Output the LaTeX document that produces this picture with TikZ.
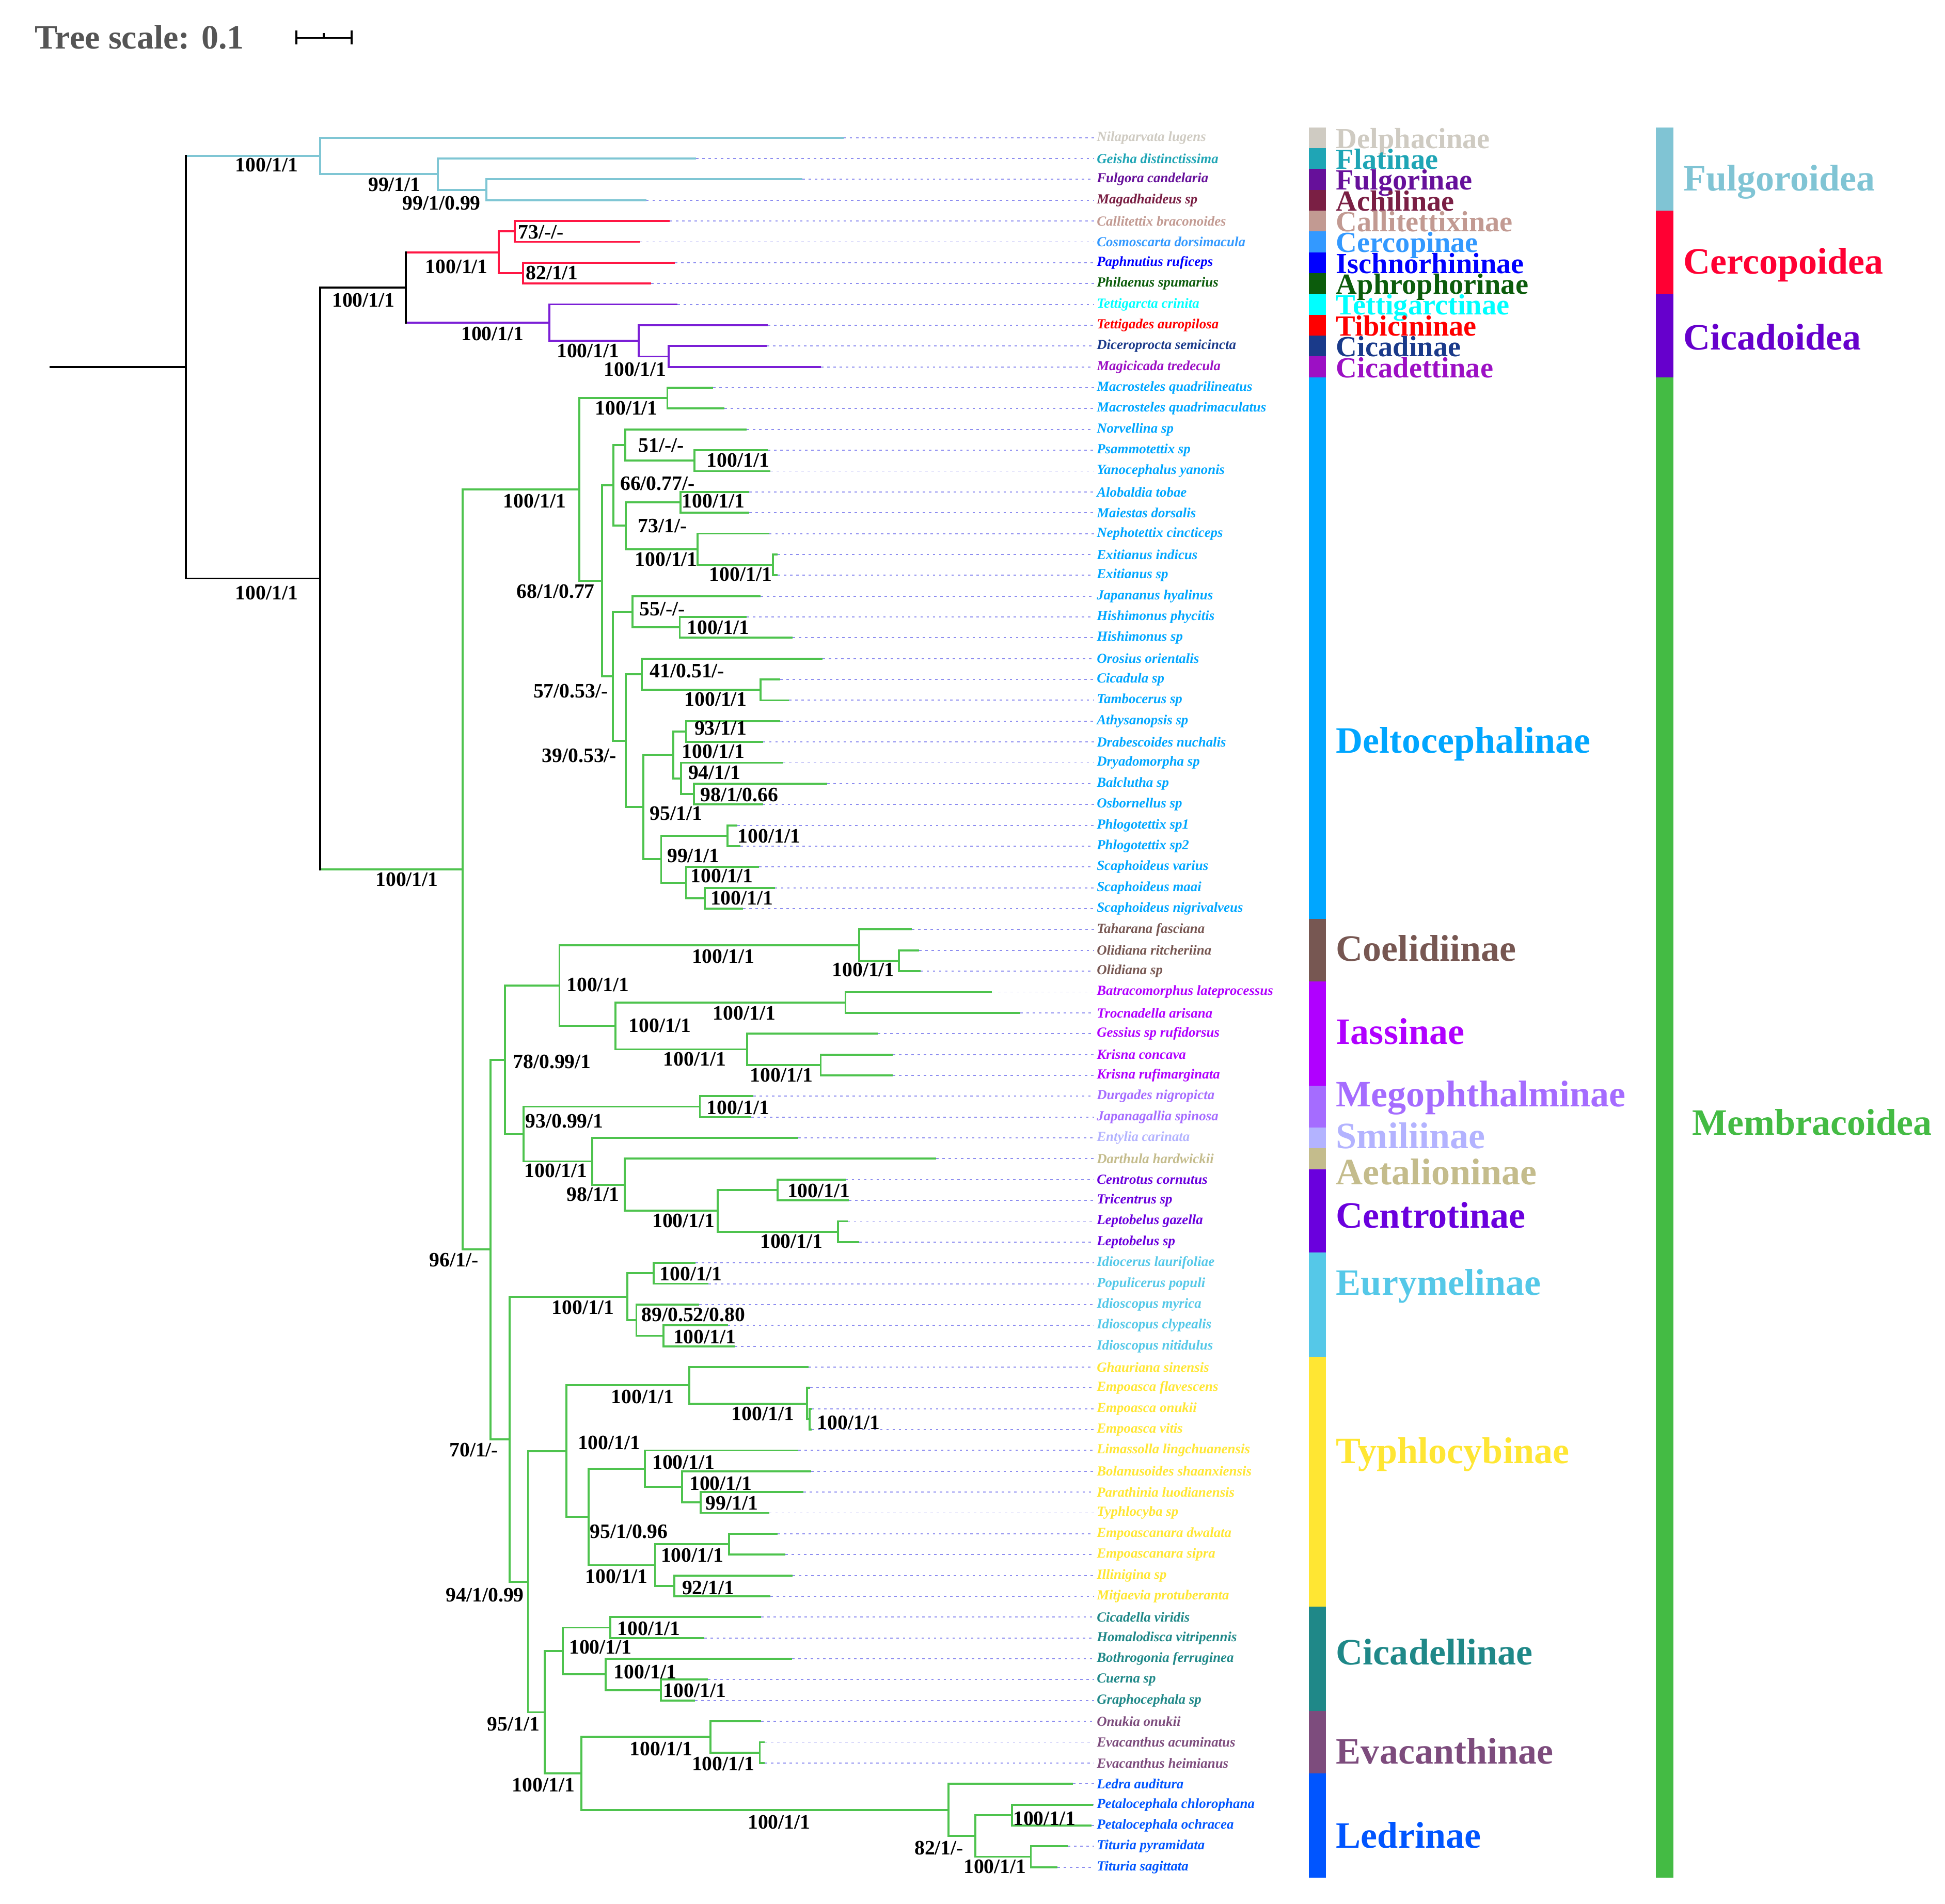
\documentclass[tikz,border=0pt]{standalone}
\usepackage{fontspec}
\setmainfont{Liberation Serif}

% subfamily colours
\definecolor{cDelph}{HTML}{CFCBC2}
\definecolor{cFlat}{HTML}{1FA5B5}
\definecolor{cFulg}{HTML}{66109A}
\definecolor{cAchil}{HTML}{7A1F44}
\definecolor{cCallit}{HTML}{C29A92}
\definecolor{cCercop}{HTML}{3399FF}
\definecolor{cIschno}{HTML}{0000FF}
\definecolor{cAphro}{HTML}{0C5C0C}
\definecolor{cTettig}{HTML}{00FFFF}
\definecolor{cTibic}{HTML}{FF0000}
\definecolor{cCicadin}{HTML}{1A3A8A}
\definecolor{cCicadet}{HTML}{9C10C4}
\definecolor{cDelto}{HTML}{00A6FF}
\definecolor{cCoel}{HTML}{775752}
\definecolor{cIass}{HTML}{B000FF}
\definecolor{cMego}{HTML}{A56CFF}
\definecolor{cSmil}{HTML}{B3B3FF}
\definecolor{cAetal}{HTML}{C4BC8C}
\definecolor{cCentro}{HTML}{6A00DD}
\definecolor{cEury}{HTML}{55C8E8}
\definecolor{cTyph}{HTML}{FFE633}
\definecolor{cCicadel}{HTML}{1F8888}
\definecolor{cEvac}{HTML}{7D4C7D}
\definecolor{cLedr}{HTML}{0055FF}
% superfamily colours
\definecolor{cFulgo}{HTML}{80C4D4}
\definecolor{cCercopo}{HTML}{FF0033}
\definecolor{cCicado}{HTML}{6600CC}
\definecolor{cMembra}{HTML}{44BB44}
% branches
\definecolor{bFulgo}{HTML}{7FC6D4}
\definecolor{bCercopo}{HTML}{FF1744}
\definecolor{bCicado}{HTML}{7B1FD6}
\definecolor{bMembra}{HTML}{4EC34E}
\definecolor{cLead}{HTML}{8C8CF0}
\definecolor{cTitle}{HTML}{555555}

% row of a taxon, in px of the figure
\newcommand{\rowy}[1]{94.2+16.8*#1}

\tikzset{
  backbr/.style={draw=black,line width=1.6pt},
  fulgbr/.style={draw=bFulgo,line width=1.6pt},
  cercbr/.style={draw=bCercopo,line width=1.6pt},
  cicabr/.style={draw=bCicado,line width=1.6pt},
  membbr/.style={draw=bMembra,line width=1.6pt},
  lead/.style={draw=cLead,line width=0.8pt,dash pattern=on 2pt off 3pt},
  taxon/.style={anchor=west,inner sep=0pt,font=\fontsize{11.2}{12}\selectfont\bfseries\itshape},
  bs/.style={inner sep=0pt,font=\fontsize{16.5}{17}\selectfont\bfseries},
  subfam/.style={anchor=base west,inner sep=0pt,font=\fontsize{23.5}{26}\selectfont\bfseries},
  subfamL/.style={anchor=base west,inner sep=0pt,font=\fontsize{30}{32}\selectfont\bfseries},
}

\begin{document}
\begin{tikzpicture}[x=1pt,y=1pt,yscale=-1,xscale=1]
\useasboundingbox (0,0) rectangle (1568,1535);

% Title and scale bar
\node[anchor=base west,inner sep=0pt,font=\fontsize{27.5}{30}\selectfont\bfseries,text=cTitle] (title) at (28,39.5) {Tree scale: 0.1};
\coordinate (sbL) at (239,30.6);
\coordinate (sbR) at (283.5,30.6);
\coordinate (sbM) at (261,30.6);
\coordinate (sbLt) at (239,24.6);
\coordinate (sbLb) at (239,35.9);
\coordinate (sbRt) at (283.5,24.6);
\coordinate (sbRb) at (283.5,35.9);
\coordinate (sbMt) at (261,26.6);
\draw[line width=1.6pt] (sbL) -- (sbR) (sbLt) -- (sbLb) (sbRt) -- (sbRb) (sbMt) -- (sbM);

% Internal nodes
\coordinate (rootL) at (40,{\rowy{12.014}});
\coordinate (root) at (150,{\rowy{12.014}});
\coordinate (fA) at (258,{\rowy{1.875}});
\coordinate (fB) at (353,{\rowy{2.75}});
\coordinate (fC) at (392,{\rowy{3.5}});
\coordinate (bk) at (258,{\rowy{22.153}});
\coordinate (ci) at (327,{\rowy{8.1875}});
\coordinate (cer) at (402,{\rowy{6.5}});
\coordinate (cerA) at (415,{\rowy{5.5}});
\coordinate (cerB) at (421.5,{\rowy{7.5}});
\coordinate (cic) at (443,{\rowy{9.875}});
\coordinate (cicA) at (515,{\rowy{10.75}});
\coordinate (cicB) at (539,{\rowy{11.5}});
\coordinate (mem) at (373,{\rowy{36.119}});
\coordinate (del) at (467,{\rowy{17.883}});
\coordinate (mac) at (538,{\rowy{13.5}});
\coordinate (d68) at (485.5,{\rowy{22.266}});
\coordinate (d66) at (494.5,{\rowy{17.6875}});
\coordinate (d51) at (504,{\rowy{15.75}});
\coordinate (psa) at (560,{\rowy{16.5}});
\coordinate (d73) at (504.5,{\rowy{19.625}});
\coordinate (alo) at (548.6,{\rowy{18.5}});
\coordinate (nep) at (562.5,{\rowy{20.75}});
\coordinate (exi) at (623,{\rowy{21.5}});
\coordinate (d57) at (494,{\rowy{26.844}});
\coordinate (d55) at (510,{\rowy{23.75}});
\coordinate (his) at (548,{\rowy{24.5}});
\coordinate (d39) at (504.5,{\rowy{29.9375}});
\coordinate (d41) at (517.4,{\rowy{26.75}});
\coordinate (cdl) at (613,{\rowy{27.5}});
\coordinate (d95) at (518.7,{\rowy{33.125}});
\coordinate (dra) at (542.8,{\rowy{30.625}});
\coordinate (d93) at (553,{\rowy{29.5}});
\coordinate (d94) at (549,{\rowy{31.75}});
\coordinate (d98) at (559.4,{\rowy{32.5}});
\coordinate (d99) at (533,{\rowy{35.625}});
\coordinate (phl) at (586.5,{\rowy{34.5}});
\coordinate (sca) at (553,{\rowy{36.75}});
\coordinate (scaB) at (568,{\rowy{37.5}});
\coordinate (m96) at (395.5,{\rowy{54.356}});
\coordinate (m78) at (407,{\rowy{45.25}});
\coordinate (coi) at (451,{\rowy{41.6875}});
\coordinate (coe) at (692.6,{\rowy{39.75}});
\coordinate (oli) at (724.6,{\rowy{40.5}});
\coordinate (ias) at (496,{\rowy{43.625}});
\coordinate (bat) at (681.6,{\rowy{42.5}});
\coordinate (ges) at (602.2,{\rowy{44.75}});
\coordinate (kri) at (661.6,{\rowy{45.5}});
\coordinate (m93) at (422,{\rowy{48.8125}});
\coordinate (meg) at (564.2,{\rowy{47.5}});
\coordinate (smi) at (477.3,{\rowy{50.125}});
\coordinate (m98) at (503.8,{\rowy{51.25}});
\coordinate (cen) at (578.7,{\rowy{52.5}});
\coordinate (cenA) at (627,{\rowy{51.5}});
\coordinate (lep) at (675.4,{\rowy{53.5}});
\coordinate (m70) at (410.7,{\rowy{63.461}});
\coordinate (eur) at (505.6,{\rowy{56.625}});
\coordinate (idi) at (527,{\rowy{55.5}});
\coordinate (m89) at (513,{\rowy{57.75}});
\coordinate (ids) at (534.9,{\rowy{58.5}});
\coordinate (m94) at (425.6,{\rowy{70.297}});
\coordinate (typ) at (456.6,{\rowy{64.031}});
\coordinate (gha) at (555.7,{\rowy{60.875}});
\coordinate (emp) at (650.6,{\rowy{61.75}});
\coordinate (empB) at (652.5,{\rowy{62.5}});
\coordinate (ty95) at (474.5,{\rowy{67.1875}});
\coordinate (lim) at (520,{\rowy{64.875}});
\coordinate (bol) at (549.7,{\rowy{65.75}});
\coordinate (par) at (564.9,{\rowy{66.5}});
\coordinate (ty100) at (528,{\rowy{69.5}});
\coordinate (emc) at (587.7,{\rowy{68.5}});
\coordinate (ty92) at (543.5,{\rowy{70.5}});
\coordinate (m95) at (439,{\rowy{76.5625}});
\coordinate (cel) at (453.7,{\rowy{73.625}});
\coordinate (celA) at (492,{\rowy{72.5}});
\coordinate (celB) at (488.3,{\rowy{74.75}});
\coordinate (celC) at (532.8,{\rowy{75.5}});
\coordinate (m100) at (468.7,{\rowy{79.5}});
\coordinate (eva) at (572.8,{\rowy{77.75}});
\coordinate (evaB) at (612.5,{\rowy{78.5}});
\coordinate (led) at (764.8,{\rowy{81.25}});
\coordinate (led82) at (786.4,{\rowy{82.5}});
\coordinate (pet) at (816,{\rowy{81.5}});
\coordinate (tit) at (831,{\rowy{83.5}});

% Leaves: branch tip and taxon name
\coordinate (l1) at (680,{\rowy{1}}); \node[taxon,text=cDelph] (t1) at (884,{\rowy{1}}) {Nilaparvata lugens};
\coordinate (l2) at (561,{\rowy{2}}); \node[taxon,text=cFlat] (t2) at (884,{\rowy{2}}) {Geisha distinctissima};
\coordinate (l3) at (647,{\rowy{3}}); \node[taxon,text=cFulg] (t3) at (884,{\rowy{3}}) {Fulgora candelaria};
\coordinate (l4) at (521,{\rowy{4}}); \node[taxon,text=cAchil] (t4) at (884,{\rowy{4}}) {Magadhaideus sp};
\coordinate (l5) at (540,{\rowy{5}}); \node[taxon,text=cCallit] (t5) at (884,{\rowy{5}}) {Callitettix braconoides};
\coordinate (l6) at (516,{\rowy{6}}); \node[taxon,text=cCercop] (t6) at (884,{\rowy{6}}) {Cosmoscarta dorsimacula};
\coordinate (l7) at (544,{\rowy{7}}); \node[taxon,text=cIschno] (t7) at (884,{\rowy{7}}) {Paphnutius ruficeps};
\coordinate (l8) at (525,{\rowy{8}}); \node[taxon,text=cAphro] (t8) at (884,{\rowy{8}}) {Philaenus spumarius};
\coordinate (l9) at (546,{\rowy{9}}); \node[taxon,text=cTettig] (t9) at (884,{\rowy{9}}) {Tettigarcta crinita};
\coordinate (l10) at (619,{\rowy{10}}); \node[taxon,text=cTibic] (t10) at (884,{\rowy{10}}) {Tettigades auropilosa};
\coordinate (l11) at (618,{\rowy{11}}); \node[taxon,text=cCicadin] (t11) at (884,{\rowy{11}}) {Diceroprocta semicincta};
\coordinate (l12) at (662,{\rowy{12}}); \node[taxon,text=cCicadet] (t12) at (884,{\rowy{12}}) {Magicicada tredecula};
\coordinate (l13) at (575,{\rowy{13}}); \node[taxon,text=cDelto] (t13) at (884,{\rowy{13}}) {Macrosteles quadrilineatus};
\coordinate (l14) at (584,{\rowy{14}}); \node[taxon,text=cDelto] (t14) at (884,{\rowy{14}}) {Macrosteles quadrimaculatus};
\coordinate (l15) at (602,{\rowy{15}}); \node[taxon,text=cDelto] (t15) at (884,{\rowy{15}}) {Norvellina sp};
\coordinate (l16) at (619,{\rowy{16}}); \node[taxon,text=cDelto] (t16) at (884,{\rowy{16}}) {Psammotettix sp};
\coordinate (l17) at (621,{\rowy{17}}); \node[taxon,text=cDelto] (t17) at (884,{\rowy{17}}) {Yanocephalus yanonis};
\coordinate (l18) at (604,{\rowy{18}}); \node[taxon,text=cDelto] (t18) at (884,{\rowy{18}}) {Alobaldia tobae};
\coordinate (l19) at (604,{\rowy{19}}); \node[taxon,text=cDelto] (t19) at (884,{\rowy{19}}) {Maiestas dorsalis};
\coordinate (l20) at (620,{\rowy{20}}); \node[taxon,text=cDelto] (t20) at (884,{\rowy{20}}) {Nephotettix cincticeps};
\coordinate (l21) at (627,{\rowy{21}}); \node[taxon,text=cDelto] (t21) at (884,{\rowy{21}}) {Exitianus indicus};
\coordinate (l22) at (627,{\rowy{22}}); \node[taxon,text=cDelto] (t22) at (884,{\rowy{22}}) {Exitianus sp};
\coordinate (l23) at (613,{\rowy{23}}); \node[taxon,text=cDelto] (t23) at (884,{\rowy{23}}) {Japananus hyalinus};
\coordinate (l24) at (602,{\rowy{24}}); \node[taxon,text=cDelto] (t24) at (884,{\rowy{24}}) {Hishimonus phycitis};
\coordinate (l25) at (639,{\rowy{25}}); \node[taxon,text=cDelto] (t25) at (884,{\rowy{25}}) {Hishimonus sp};
\coordinate (l26) at (663,{\rowy{26}}); \node[taxon,text=cDelto] (t26) at (884,{\rowy{26}}) {Orosius orientalis};
\coordinate (l27) at (629,{\rowy{27}}); \node[taxon,text=cDelto] (t27) at (884,{\rowy{27}}) {Cicadula sp};
\coordinate (l28) at (636,{\rowy{28}}); \node[taxon,text=cDelto] (t28) at (884,{\rowy{28}}) {Tambocerus sp};
\coordinate (l29) at (629,{\rowy{29}}); \node[taxon,text=cDelto] (t29) at (884,{\rowy{29}}) {Athysanopsis sp};
\coordinate (l30) at (615,{\rowy{30}}); \node[taxon,text=cDelto] (t30) at (884,{\rowy{30}}) {Drabescoides nuchalis};
\coordinate (l31) at (631,{\rowy{31}}); \node[taxon,text=cDelto] (t31) at (884,{\rowy{31}}) {Dryadomorpha sp};
\coordinate (l32) at (667,{\rowy{32}}); \node[taxon,text=cDelto] (t32) at (884,{\rowy{32}}) {Balclutha sp};
\coordinate (l33) at (615,{\rowy{33}}); \node[taxon,text=cDelto] (t33) at (884,{\rowy{33}}) {Osbornellus sp};
\coordinate (l34) at (594.5,{\rowy{34}}); \node[taxon,text=cDelto] (t34) at (884,{\rowy{34}}) {Phlogotettix sp1};
\coordinate (l35) at (597,{\rowy{35}}); \node[taxon,text=cDelto] (t35) at (884,{\rowy{35}}) {Phlogotettix sp2};
\coordinate (l36) at (612,{\rowy{36}}); \node[taxon,text=cDelto] (t36) at (884,{\rowy{36}}) {Scaphoideus varius};
\coordinate (l37) at (624.6,{\rowy{37}}); \node[taxon,text=cDelto] (t37) at (884,{\rowy{37}}) {Scaphoideus maai};
\coordinate (l38) at (599,{\rowy{38}}); \node[taxon,text=cDelto] (t38) at (884,{\rowy{38}}) {Scaphoideus nigrivalveus};
\coordinate (l39) at (735,{\rowy{39}}); \node[taxon,text=cCoel] (t39) at (884,{\rowy{39}}) {Taharana fasciana};
\coordinate (l40) at (741,{\rowy{40}}); \node[taxon,text=cCoel] (t40) at (884,{\rowy{40}}) {Olidiana ritcheriina};
\coordinate (l41) at (742,{\rowy{41}}); \node[taxon,text=cCoel] (t41) at (884,{\rowy{41}}) {Olidiana sp};
\coordinate (l42) at (799.6,{\rowy{42}}); \node[taxon,text=cIass] (t42) at (884,{\rowy{42}}) {Batracomorphus lateprocessus};
\coordinate (l43) at (822.4,{\rowy{43}}); \node[taxon,text=cIass] (t43) at (884,{\rowy{43}}) {Trocnadella arisana};
\coordinate (l44) at (707.5,{\rowy{44}}); \node[taxon,text=cIass] (t44) at (884,{\rowy{44}}) {Gessius sp rufidorsus};
\coordinate (l45) at (719.6,{\rowy{45}}); \node[taxon,text=cIass] (t45) at (884,{\rowy{45}}) {Krisna concava};
\coordinate (l46) at (719.6,{\rowy{46}}); \node[taxon,text=cIass] (t46) at (884,{\rowy{46}}) {Krisna rufimarginata};
\coordinate (l47) at (607.3,{\rowy{47}}); \node[taxon,text=cMego] (t47) at (884,{\rowy{47}}) {Durgades nigropicta};
\coordinate (l48) at (605.6,{\rowy{48}}); \node[taxon,text=cMego] (t48) at (884,{\rowy{48}}) {Japanagallia spinosa};
\coordinate (l49) at (643.6,{\rowy{49}}); \node[taxon,text=cSmil] (t49) at (884,{\rowy{49}}) {Entylia carinata};
\coordinate (l50) at (754.7,{\rowy{50}}); \node[taxon,text=cAetal] (t50) at (884,{\rowy{50}}) {Darthula hardwickii};
\coordinate (l51) at (681.6,{\rowy{51}}); \node[taxon,text=cCentro] (t51) at (884,{\rowy{51}}) {Centrotus cornutus};
\coordinate (l52) at (684.3,{\rowy{52}}); \node[taxon,text=cCentro] (t52) at (884,{\rowy{52}}) {Tricentrus sp};
\coordinate (l53) at (683.3,{\rowy{53}}); \node[taxon,text=cCentro] (t53) at (884,{\rowy{53}}) {Leptobelus gazella};
\coordinate (l54) at (692.6,{\rowy{54}}); \node[taxon,text=cCentro] (t54) at (884,{\rowy{54}}) {Leptobelus sp};
\coordinate (l55) at (560.7,{\rowy{55}}); \node[taxon,text=cEury] (t55) at (884,{\rowy{55}}) {Idiocerus laurifoliae};
\coordinate (l56) at (571,{\rowy{56}}); \node[taxon,text=cEury] (t56) at (884,{\rowy{56}}) {Populicerus populi};
\coordinate (l57) at (563.6,{\rowy{57}}); \node[taxon,text=cEury] (t57) at (884,{\rowy{57}}) {Idioscopus myrica};
\coordinate (l58) at (586.7,{\rowy{58}}); \node[taxon,text=cEury] (t58) at (884,{\rowy{58}}) {Idioscopus clypealis};
\coordinate (l59) at (592.5,{\rowy{59}}); \node[taxon,text=cEury] (t59) at (884,{\rowy{59}}) {Idioscopus nitidulus};
\coordinate (l60) at (652,{\rowy{60}}); \node[taxon,text=cTyph] (t60) at (884,{\rowy{60}}) {Ghauriana sinensis};
\coordinate (l61) at (653,{\rowy{61}}); \node[taxon,text=cTyph] (t61) at (884,{\rowy{61}}) {Empoasca flavescens};
\coordinate (l62) at (654.5,{\rowy{62}}); \node[taxon,text=cTyph] (t62) at (884,{\rowy{62}}) {Empoasca onukii};
\coordinate (l63) at (654.5,{\rowy{63}}); \node[taxon,text=cTyph] (t63) at (884,{\rowy{63}}) {Empoasca vitis};
\coordinate (l64) at (643.6,{\rowy{64}}); \node[taxon,text=cTyph] (t64) at (884,{\rowy{64}}) {Limassolla lingchuanensis};
\coordinate (l65) at (654,{\rowy{65}}); \node[taxon,text=cTyph] (t65) at (884,{\rowy{65}}) {Bolanusoides shaanxiensis};
\coordinate (l66) at (647.7,{\rowy{66}}); \node[taxon,text=cTyph] (t66) at (884,{\rowy{66}}) {Parathinia luodianensis};
\coordinate (l67) at (620,{\rowy{67}}); \node[taxon,text=cTyph] (t67) at (884,{\rowy{67}}) {Typhlocyba sp};
\coordinate (l68) at (627,{\rowy{68}}); \node[taxon,text=cTyph] (t68) at (884,{\rowy{68}}) {Empoascanara dwalata};
\coordinate (l69) at (633,{\rowy{69}}); \node[taxon,text=cTyph] (t69) at (884,{\rowy{69}}) {Empoascanara sipra};
\coordinate (l70) at (639,{\rowy{70}}); \node[taxon,text=cTyph] (t70) at (884,{\rowy{70}}) {Illinigina sp};
\coordinate (l71) at (621,{\rowy{71}}); \node[taxon,text=cTyph] (t71) at (884,{\rowy{71}}) {Mitjaevia protuberanta};
\coordinate (l72) at (613.5,{\rowy{72}}); \node[taxon,text=cCicadel] (t72) at (884,{\rowy{72}}) {Cicadella viridis};
\coordinate (l73) at (567.8,{\rowy{73}}); \node[taxon,text=cCicadel] (t73) at (884,{\rowy{73}}) {Homalodisca vitripennis};
\coordinate (l74) at (638.5,{\rowy{74}}); \node[taxon,text=cCicadel] (t74) at (884,{\rowy{74}}) {Bothrogonia ferruginea};
\coordinate (l75) at (570.7,{\rowy{75}}); \node[taxon,text=cCicadel] (t75) at (884,{\rowy{75}}) {Cuerna sp};
\coordinate (l76) at (560.4,{\rowy{76}}); \node[taxon,text=cCicadel] (t76) at (884,{\rowy{76}}) {Graphocephala sp};
\coordinate (l77) at (613.5,{\rowy{77}}); \node[taxon,text=cEvac] (t77) at (884,{\rowy{77}}) {Onukia onukii};
\coordinate (l78) at (616.5,{\rowy{78}}); \node[taxon,text=cEvac] (t78) at (884,{\rowy{78}}) {Evacanthus acuminatus};
\coordinate (l79) at (616.5,{\rowy{79}}); \node[taxon,text=cEvac] (t79) at (884,{\rowy{79}}) {Evacanthus heimianus};
\coordinate (l80) at (865,{\rowy{80}}); \node[taxon,text=cLedr] (t80) at (884,{\rowy{80}}) {Ledra auditura};
\coordinate (l81) at (881,{\rowy{81}}); \node[taxon,text=cLedr] (t81) at (884,{\rowy{81}}) {Petalocephala chlorophana};
\coordinate (l82) at (880,{\rowy{82}}); \node[taxon,text=cLedr] (t82) at (884,{\rowy{82}}) {Petalocephala ochracea};
\coordinate (l83) at (860.8,{\rowy{83}}); \node[taxon,text=cLedr] (t83) at (884,{\rowy{83}}) {Tituria pyramidata};
\coordinate (l84) at (852.5,{\rowy{84}}); \node[taxon,text=cLedr] (t84) at (884,{\rowy{84}}) {Tituria sagittata};

% dotted leaders to the names
\foreach \i in {1,...,84} \draw[lead] (l\i) -- ([xshift=-2pt]t\i.west);

% Fulgoroidea
\draw[fulgbr] (root) |- (fA) (fA) |- (l1) (fA) |- (fB) (fB) |- (l2) (fB) |- (fC) (fC) |- (l3) (fC) |- (l4);
% Cercopoidea
\draw[cercbr] (ci) |- (cer) (cer) |- (cerA) (cer) |- (cerB) (cerA) |- (l5) (cerA) |- (l6) (cerB) |- (l7) (cerB) |- (l8);
% Cicadoidea
\draw[cicabr] (ci) |- (cic) (cic) |- (l9) (cic) |- (cicA) (cicA) |- (l10) (cicA) |- (cicB) (cicB) |- (l11) (cicB) |- (l12);
% Membracoidea: Deltocephalinae
\draw[membbr] (bk) |- (mem) (mem) |- (del) (mem) |- (m96) (del) |- (mac) (del) |- (d68) (mac) |- (l13) (mac) |- (l14)
  (d68) |- (d66) (d68) |- (d57) (d66) |- (d51) (d66) |- (d73) (d51) |- (l15) (d51) |- (psa) (psa) |- (l16) (psa) |- (l17)
  (d73) |- (alo) (d73) |- (nep) (alo) |- (l18) (alo) |- (l19) (nep) |- (l20) (nep) |- (exi) (exi) |- (l21) (exi) |- (l22)
  (d57) |- (d55) (d57) |- (d39) (d55) |- (l23) (d55) |- (his) (his) |- (l24) (his) |- (l25)
  (d39) |- (d41) (d39) |- (d95) (d41) |- (l26) (d41) |- (cdl) (cdl) |- (l27) (cdl) |- (l28)
  (d95) |- (dra) (d95) |- (d99) (dra) |- (d93) (dra) |- (d94) (d93) |- (l29) (d93) |- (l30) (d94) |- (l31) (d94) |- (d98) (d98) |- (l32) (d98) |- (l33)
  (d99) |- (phl) (d99) |- (sca) (phl) |- (l34) (phl) |- (l35) (sca) |- (l36) (sca) |- (scaB) (scaB) |- (l37) (scaB) |- (l38);
% Membracoidea: the rest
\draw[membbr] (m96) |- (m78) (m96) |- (m70) (m78) |- (coi) (m78) |- (m93) (coi) |- (coe) (coi) |- (ias)
  (coe) |- (l39) (coe) |- (oli) (oli) |- (l40) (oli) |- (l41)
  (ias) |- (bat) (ias) |- (ges) (bat) |- (l42) (bat) |- (l43) (ges) |- (l44) (ges) |- (kri) (kri) |- (l45) (kri) |- (l46)
  (m93) |- (meg) (m93) |- (smi) (meg) |- (l47) (meg) |- (l48) (smi) |- (l49) (smi) |- (m98) (m98) |- (l50) (m98) |- (cen)
  (cen) |- (cenA) (cen) |- (lep) (cenA) |- (l51) (cenA) |- (l52) (lep) |- (l53) (lep) |- (l54)
  (m70) |- (eur) (m70) |- (m94) (eur) |- (idi) (eur) |- (m89) (idi) |- (l55) (idi) |- (l56) (m89) |- (l57) (m89) |- (ids) (ids) |- (l58) (ids) |- (l59)
  (m94) |- (typ) (m94) |- (m95) (typ) |- (gha) (typ) |- (ty95)
  (gha) |- (l60) (gha) |- (emp) (emp) |- (l61) (emp) |- (empB) (empB) |- (l62) (empB) |- (l63)
  (ty95) |- (lim) (ty95) |- (ty100) (lim) |- (l64) (lim) |- (bol) (bol) |- (l65) (bol) |- (par) (par) |- (l66) (par) |- (l67)
  (ty100) |- (emc) (ty100) |- (ty92) (emc) |- (l68) (emc) |- (l69) (ty92) |- (l70) (ty92) |- (l71)
  (m95) |- (cel) (m95) |- (m100) (cel) |- (celA) (cel) |- (celB) (celA) |- (l72) (celA) |- (l73) (celB) |- (l74) (celB) |- (celC) (celC) |- (l75) (celC) |- (l76)
  (m100) |- (eva) (m100) |- (led) (eva) |- (l77) (eva) |- (evaB) (evaB) |- (l78) (evaB) |- (l79)
  (led) |- (l80) (led) |- (led82) (led82) |- (pet) (led82) |- (tit) (pet) |- (l81) (pet) |- (l82) (tit) |- (l83) (tit) |- (l84);
% backbone (black)
\draw[backbr] (rootL) -- (root) (root) |- (bk) (bk) |- (ci);
\draw[backbr,line cap=rect] (root |- fA) -- (root |- bk) (bk |- ci) -- (bk |- mem) (ci |- cer) -- (ci |- cic);

% Text Node: support values
\node[bs] (s1) at (215,133) {100/1/1};
\node[bs] (s2) at (318,149) {99/1/1};
\node[bs] (s3) at (356,164) {99/1/0.99};
\node[bs] (s4) at (293,242) {100/1/1};
\node[bs] (s5) at (436,187) {73/-/-};
\node[bs] (s6) at (368,215) {100/1/1};
\node[bs] (s7) at (445,220) {82/1/1};
\node[bs] (s8) at (397,269) {100/1/1};
\node[bs] (s9) at (474,283) {100/1/1};
\node[bs] (s10) at (512,298) {100/1/1};
\node[bs] (s11) at (215,478) {100/1/1};
\node[bs] (s12) at (328,709) {100/1/1};
\node[bs] (s13) at (431,404) {100/1/1};
\node[bs] (s14) at (505,329) {100/1/1};
\node[bs] (s15) at (533,359) {51/-/-};
\node[bs] (s16) at (595,371) {100/1/1};
\node[bs] (s17) at (530,390) {66/0.77/-};
\node[bs] (s18) at (575,404) {100/1/1};
\node[bs] (s19) at (534,424) {73/1/-};
\node[bs] (s20) at (537,451) {100/1/1};
\node[bs] (s21) at (597,463) {100/1/1};
\node[bs] (s22) at (448,477) {68/1/0.77};
\node[bs] (s23) at (534,491) {55/-/-};
\node[bs] (s24) at (579,506) {100/1/1};
\node[bs] (s25) at (554,541) {41/0.51/-};
\node[bs] (s26) at (460,557) {57/0.53/-};
\node[bs] (s27) at (577,564) {100/1/1};
\node[bs] (s28) at (581,587) {93/1/1};
\node[bs] (s29) at (575,606) {100/1/1};
\node[bs] (s30) at (467,609) {39/0.53/-};
\node[bs] (s31) at (576,623) {94/1/1};
\node[bs] (s32) at (596,641) {98/1/0.66};
\node[bs] (s33) at (545,656) {95/1/1};
\node[bs] (s34) at (620,674) {100/1/1};
\node[bs] (s35) at (559,690) {99/1/1};
\node[bs] (s36) at (582,706) {100/1/1};
\node[bs] (s37) at (598,724) {100/1/1};
\node[bs] (s38) at (583,771) {100/1/1};
\node[bs] (s39) at (482,794) {100/1/1};
\node[bs] (s40) at (696,782) {100/1/1};
\node[bs] (s41) at (600,817) {100/1/1};
\node[bs] (s42) at (532,827) {100/1/1};
\node[bs] (s43) at (445,856) {78/0.99/1};
\node[bs] (s44) at (560,854) {100/1/1};
\node[bs] (s45) at (630,867) {100/1/1};
\node[bs] (s46) at (595,893) {100/1/1};
\node[bs] (s47) at (455,904) {93/0.99/1};
\node[bs] (s48) at (448,944) {100/1/1};
\node[bs] (s49) at (660,960) {100/1/1};
\node[bs] (s50) at (478,963) {98/1/1};
\node[bs] (s51) at (551,984) {100/1/1};
\node[bs] (s52) at (638,1001) {100/1/1};
\node[bs] (s53) at (366,1016) {96/1/-};
\node[bs] (s54) at (557,1027) {100/1/1};
\node[bs] (s55) at (470,1054) {100/1/1};
\node[bs] (s56) at (559,1060) {89/0.52/0.80};
\node[bs] (s57) at (568,1078) {100/1/1};
\node[bs] (s58) at (518,1126) {100/1/1};
\node[bs] (s59) at (615,1140) {100/1/1};
\node[bs] (s60) at (684,1147) {100/1/1};
\node[bs] (s61) at (491,1163) {100/1/1};
\node[bs] (s62) at (382,1169) {70/1/-};
\node[bs] (s63) at (551,1179) {100/1/1};
\node[bs] (s64) at (581,1196) {100/1/1};
\node[bs] (s65) at (590,1212) {99/1/1};
\node[bs] (s66) at (507,1235) {95/1/0.96};
\node[bs] (s67) at (558,1254) {100/1/1};
\node[bs] (s68) at (497,1271) {100/1/1};
\node[bs] (s69) at (571,1280) {92/1/1};
\node[bs] (s70) at (391,1286) {94/1/0.99};
\node[bs] (s71) at (523,1313) {100/1/1};
\node[bs] (s72) at (484,1328) {100/1/1};
\node[bs] (s73) at (520,1348) {100/1/1};
\node[bs] (s74) at (560,1363) {100/1/1};
\node[bs] (s75) at (414,1390) {95/1/1};
\node[bs] (s76) at (533,1410) {100/1/1};
\node[bs] (s77) at (583,1422) {100/1/1};
\node[bs] (s78) at (438,1439) {100/1/1};
\node[bs] (s79) at (628,1469) {100/1/1};
\node[bs] (s80) at (842,1466) {100/1/1};
\node[bs] (s81) at (757,1490) {82/1/-};
\node[bs] (s82) at (802,1505) {100/1/1};

% Subfamily strip
\fill[cDelph] (1055,{\rowy{0.5}}) rectangle (1069,{\rowy{1.5}});
\fill[cFlat] (1055,{\rowy{1.5}}) rectangle (1069,{\rowy{2.5}});
\fill[cFulg] (1055,{\rowy{2.5}}) rectangle (1069,{\rowy{3.5}});
\fill[cAchil] (1055,{\rowy{3.5}}) rectangle (1069,{\rowy{4.5}});
\fill[cCallit] (1055,{\rowy{4.5}}) rectangle (1069,{\rowy{5.5}});
\fill[cCercop] (1055,{\rowy{5.5}}) rectangle (1069,{\rowy{6.5}});
\fill[cIschno] (1055,{\rowy{6.5}}) rectangle (1069,{\rowy{7.5}});
\fill[cAphro] (1055,{\rowy{7.5}}) rectangle (1069,{\rowy{8.5}});
\fill[cTettig] (1055,{\rowy{8.5}}) rectangle (1069,{\rowy{9.5}});
\fill[cTibic] (1055,{\rowy{9.5}}) rectangle (1069,{\rowy{10.5}});
\fill[cCicadin] (1055,{\rowy{10.5}}) rectangle (1069,{\rowy{11.5}});
\fill[cCicadet] (1055,{\rowy{11.5}}) rectangle (1069,{\rowy{12.5}});
\fill[cDelto] (1055,{\rowy{12.5}}) rectangle (1069,{\rowy{38.5}});
\fill[cCoel] (1055,{\rowy{38.5}}) rectangle (1069,{\rowy{41.5}});
\fill[cIass] (1055,{\rowy{41.5}}) rectangle (1069,{\rowy{46.5}});
\fill[cMego] (1055,{\rowy{46.5}}) rectangle (1069,{\rowy{48.5}});
\fill[cSmil] (1055,{\rowy{48.5}}) rectangle (1069,{\rowy{49.5}});
\fill[cAetal] (1055,{\rowy{49.5}}) rectangle (1069,{\rowy{50.5}});
\fill[cCentro] (1055,{\rowy{50.5}}) rectangle (1069,{\rowy{54.5}});
\fill[cEury] (1055,{\rowy{54.5}}) rectangle (1069,{\rowy{59.5}});
\fill[cTyph] (1055,{\rowy{59.5}}) rectangle (1069,{\rowy{71.5}});
\fill[cCicadel] (1055,{\rowy{71.5}}) rectangle (1069,{\rowy{76.5}});
\fill[cEvac] (1055,{\rowy{76.5}}) rectangle (1069,{\rowy{79.5}});
\fill[cLedr] (1055,{\rowy{79.5}}) rectangle (1069,{\rowy{84.5}});

% Text Node: subfamilies
\node[subfam,text=cDelph] (sf1) at (1077,{\rowy{1}+8.5}) {Delphacinae};
\node[subfam,text=cFlat] (sf2) at (1077,{\rowy{2}+8.5}) {Flatinae};
\node[subfam,text=cFulg] (sf3) at (1077,{\rowy{3}+8.5}) {Fulgorinae};
\node[subfam,text=cAchil] (sf4) at (1077,{\rowy{4}+8.5}) {Achilinae};
\node[subfam,text=cCallit] (sf5) at (1077,{\rowy{5}+8.5}) {Callitettixinae};
\node[subfam,text=cCercop] (sf6) at (1077,{\rowy{6}+8.5}) {Cercopinae};
\node[subfam,text=cIschno] (sf7) at (1077,{\rowy{7}+8.5}) {Ischnorhininae};
\node[subfam,text=cAphro] (sf8) at (1077,{\rowy{8}+8.5}) {Aphrophorinae};
\node[subfam,text=cTettig] (sf9) at (1077,{\rowy{9}+8.5}) {Tettigarctinae};
\node[subfam,text=cTibic] (sf10) at (1077,{\rowy{10}+8.5}) {Tibicininae};
\node[subfam,text=cCicadin] (sf11) at (1077,{\rowy{11}+8.5}) {Cicadinae};
\node[subfam,text=cCicadet] (sf12) at (1077,{\rowy{12}+8.5}) {Cicadettinae};
\node[subfamL,text=cDelto] (sf13) at (1077,607) {Deltocephalinae};
\node[subfamL,text=cCoel] (sf14) at (1077,775) {Coelidiinae};
\node[subfamL,text=cIass] (sf15) at (1077,842) {Iassinae};
\node[subfamL,text=cMego] (sf16) at (1077,892) {Megophthalminae};
\node[subfamL,text=cSmil] (sf17) at (1077,926) {Smiliinae};
\node[subfamL,text=cAetal] (sf18) at (1077,955) {Aetalioninae};
\node[subfamL,text=cCentro] (sf19) at (1077,990) {Centrotinae};
\node[subfamL,text=cEury] (sf20) at (1077,1044) {Eurymelinae};
\node[subfamL,text=cTyph] (sf21) at (1077,1180) {Typhlocybinae};
\node[subfamL,text=cCicadel] (sf22) at (1077,1342) {Cicadellinae};
\node[subfamL,text=cEvac] (sf23) at (1077,1422) {Evacanthinae};
\node[subfamL,text=cLedr] (sf24) at (1077,1490) {Ledrinae};

% Superfamily strip
\fill[cFulgo] (1335,{\rowy{0.5}}) rectangle (1349,{\rowy{4.5}});
\fill[cCercopo] (1335,{\rowy{4.5}}) rectangle (1349,{\rowy{8.5}});
\fill[cCicado] (1335,{\rowy{8.5}}) rectangle (1349,{\rowy{12.5}});
\fill[cMembra] (1335,{\rowy{12.5}}) rectangle (1349,{\rowy{84.5}});
\node[subfamL,text=cFulgo] (sp1) at (1357,154) {Fulgoroidea};
\node[subfamL,text=cCercopo] (sp2) at (1357,221) {Cercopoidea};
\node[subfamL,text=cCicado] (sp3) at (1357,282) {Cicadoidea};
\node[subfamL,text=cMembra] (sp4) at (1364,915) {Membracoidea};

\end{tikzpicture}
\end{document}
